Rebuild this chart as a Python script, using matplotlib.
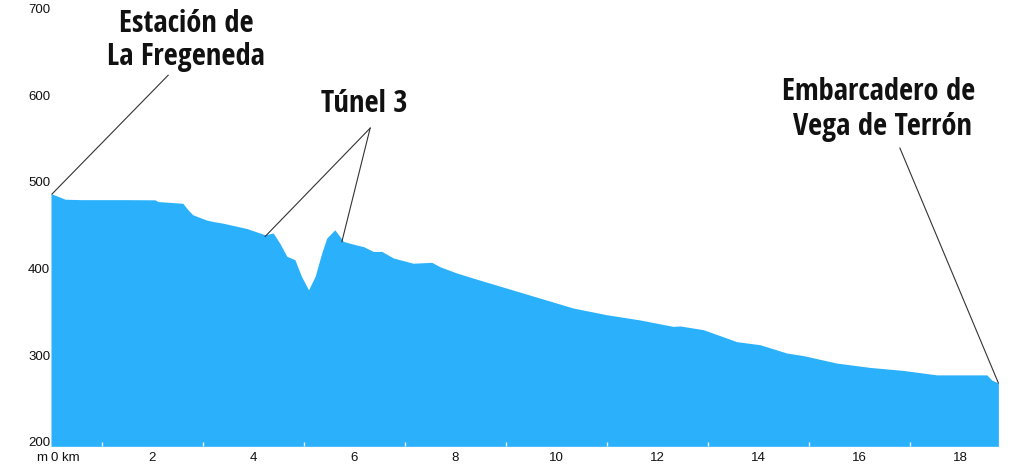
import matplotlib
matplotlib.use("Agg")
import matplotlib.pyplot as plt
from matplotlib import font_manager as fm

# ---- data (km, m) ----
distance_km = [0.00, 0.28, 0.60, 1.50, 2.06, 2.12, 2.61, 2.72, 2.81, 3.08, 3.21, 3.41,
               3.87, 4.24, 4.40, 4.53, 4.67, 4.83, 4.96, 5.10, 5.23, 5.36, 5.46, 5.62,
               5.72, 5.79, 6.05, 6.19, 6.38, 6.55, 6.78, 7.17, 7.54, 7.70, 8.03, 8.36,
               9.02, 9.68, 10.34, 11.00, 11.66, 12.32, 12.46, 12.92, 13.58, 14.04, 14.57,
               14.90, 15.56, 16.22, 16.88, 17.54, 18.53, 18.63, 18.76]
elevation_m = [491.5, 485.0, 484.5, 484.5, 484.3, 482.3, 480.3, 472.3, 467.0, 461.0, 459.3, 457.3,
               451.3, 444.0, 446.0, 434.3, 419.2, 415.2, 396.0, 380.5, 396.0, 422.8, 440.2, 449.7,
               442.0, 436.3, 432.2, 430.3, 424.8, 424.8, 417.2, 411.2, 412.2, 407.2, 400.0, 394.0,
               382.5, 371.0, 359.5, 351.8, 345.8, 338.3, 338.8, 334.5, 320.7, 317.2, 307.6,
               304.6, 296.0, 291.0, 287.5, 282.4, 282.4, 276.4, 273.0]

x_ticks = [0, 2, 4, 6, 8, 10, 12, 14, 16, 18]
x_tick_labels = ["0 km", "2", "4", "6", "8", "10", "12", "14", "16", "18"]
y_ticks = [200, 300, 400, 500, 600, 700]

labels = ["Estación de\nLa Fregeneda", "Túnel 3", "Embarcadero de\nVega de Terrón"]

names = {f.name for f in fm.fontManager.ttflist}
title_font = "Open Sans Condensed" if "Open Sans Condensed" in names else "DejaVu Sans"
tick_font = "Liberation Sans"

fig = plt.figure(figsize=(10.24, 4.71), dpi=100)
ax = fig.add_axes([51/1024, 0.0524, (1010.5-51)/1024, 0.9204])
ax.fill_between(distance_km, elevation_m, 200, color="#2BB1FB", lw=0, zorder=1)
ax.set_xlim(0, 19)
ax.set_ylim(200, 700)
for s in ax.spines.values():
    s.set_visible(False)

ax.set_xticks(x_ticks)
ax.set_xticklabels(x_tick_labels)
ax.set_xticks([1, 3, 5, 7, 9, 11, 13, 15, 17], minor=True)
ax.tick_params(axis="x", which="major", length=0, pad=4, labelsize=9.5, labelcolor="#111111")
ax.tick_params(axis="x", which="minor", length=3, direction="in", color="#e8f4fb", width=1)
ax.get_xticklabels()[0].set_horizontalalignment("left")
ax.set_yticks(y_ticks)
ax.set_yticklabels([str(v) for v in y_ticks])
ax.tick_params(axis="y", length=0, pad=0.5, labelsize=9.5, labelcolor="#111111")
for t in ax.get_yticklabels():
    t.set_verticalalignment("baseline")
for t in ax.get_xticklabels() + ax.get_yticklabels():
    t.set_family(tick_font)

ax.annotate("m", xy=(0, 0), xycoords="axes fraction", xytext=(-3, -4),
            textcoords="offset points", ha="right", va="top",
            fontsize=9.5, family=tick_font, color="#111111")

line_kw = dict(color="#333333", lw=0.8, zorder=3)
ax.plot([0.02, 2.32], [491, 628], **line_kw)
ax.plot([6.32, 4.24], [567, 442], **line_kw)
ax.plot([6.32, 5.76], [567, 436], **line_kw)
ax.plot([16.81, 18.76], [544, 273], **line_kw)

tkw = dict(ha="center", va="baseline", fontsize=22, fontweight="bold", family=title_font,
           color="#111111", clip_on=False)
l1 = labels[0].split("\n")
ax.text(2.68, 678, l1[0], **tkw)
ax.text(2.68, 640, l1[1], **tkw)
ax.text(6.2, 586, labels[1], **tkw)
l3 = labels[2].split("\n")
ax.text(16.38, 600, l3[0], **tkw)
ax.text(16.46, 559, l3[1], **tkw)

fig.savefig("out.png", dpi=100)
